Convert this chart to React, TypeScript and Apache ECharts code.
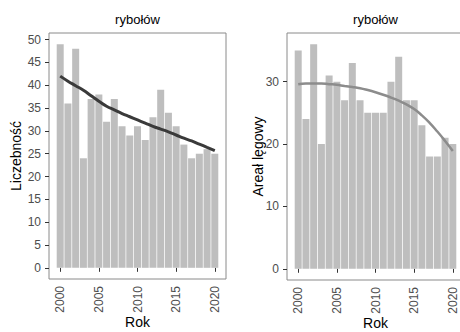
import React, { useEffect, useRef } from "react";
import * as echarts from "echarts";

const years = [2000, 2001, 2002, 2003, 2004, 2005, 2006, 2007, 2008, 2009, 2010, 2011, 2012, 2013, 2014, 2015, 2016, 2017, 2018, 2019, 2020];
const liczebnosc = [49, 36, 48, 24, 37, 38, 32, 37, 31, 29, 31, 28, 33, 39, 34, 31, 27, 24, 25, 26, 25];
const liczebnoscTrend = [42.0, 40.9, 39.9, 38.9, 37.7, 36.5, 35.4, 34.6, 33.8, 33.1, 32.4, 31.7, 31.0, 30.4, 29.8, 29.1, 28.4, 27.8, 27.1, 26.4, 25.7];
const areal = [35, 24, 36, 20, 31, 30, 27, 33, 27, 25, 25, 25, 30, 34, 27, 27, 23, 18, 18, 21, 20];
const arealTrend = [29.6, 29.7, 29.7, 29.7, 29.6, 29.5, 29.3, 29.15, 28.95, 28.65, 28.3, 27.9, 27.45, 26.95, 26.35, 25.6, 24.6, 23.4, 22.0, 20.5, 18.9];
const xTicks = [2000, 2005, 2010, 2015, 2020];
const yTicksLeft = [0, 5, 10, 15, 20, 25, 30, 35, 40, 45, 50];
const yTicksRight = [0, 10, 20, 30];
const panelTitle = "rybołów";
const xName = "Rok";
const yNameLeft = "Liczebność";
const yNameRight = "Areał lęgowy";

const FONT = "Liberation Sans, Arial, sans-serif";

export default function App() {
  const ref = useRef<HTMLDivElement>(null);
  useEffect(() => {
    const chart = echarts.init(ref.current!, null, { renderer: "svg" });
    const xAxisBase = (gridIndex: number) => ({
      type: "value",
      gridIndex,
      min: 1998.55,
      max: 2021.45,
      name: xName,
      nameLocation: "middle",
      nameGap: 36,
      nameMoveOverlap: false,
      nameTextStyle: { fontSize: 14, color: "#000", fontFamily: FONT, lineHeight: 14 },
      axisLine: { show: false },
      axisTick: { show: true, customValues: xTicks, length: 4, lineStyle: { color: "#333", width: 1 } },
      axisLabel: {
        customValues: xTicks,
        rotate: 90,
        margin: 7,
        fontSize: 12,
        color: "#4d4d4d",
        fontFamily: FONT,
        formatter: (v: number) => String(Math.round(v)),
      },
      splitLine: { show: false },
    });
    const yAxisBase = (gridIndex: number, min: number, max: number, ticks: number[], name: string, gap: number) => ({
      type: "value",
      gridIndex,
      min,
      max,
      name,
      nameLocation: "middle",
      nameGap: gap,
      nameMoveOverlap: false,
      nameTextStyle: { fontSize: 14, color: "#000", fontFamily: FONT },
      axisLine: { show: false },
      axisTick: { show: true, customValues: ticks, length: 4, lineStyle: { color: "#333", width: 1 } },
      axisLabel: { customValues: ticks, margin: 8, fontSize: 12, color: "#4d4d4d", fontFamily: FONT },
      splitLine: { show: false },
    });
    chart.setOption({
      animation: false,
      backgroundColor: "#fff",
      graphic: [
        { type: "text", x: 137.5, y: 19, style: { text: panelTitle, textAlign: "center", textVerticalAlign: "middle", fontSize: 13, fill: "#000", fontFamily: FONT } },
        { type: "text", x: 375.5, y: 19, style: { text: panelTitle, textAlign: "center", textVerticalAlign: "middle", fontSize: 13, fill: "#000", fontFamily: FONT } },
      ],
      grid: [
        { left: 49, top: 33, width: 177, height: 246, show: true, borderColor: "#8a8a8a", borderWidth: 1, backgroundColor: "transparent", outerBoundsMode: "none", containLabel: false },
        { left: 287, top: 33, width: 177, height: 247, show: true, borderColor: "#8a8a8a", borderWidth: 1, backgroundColor: "transparent", outerBoundsMode: "none", containLabel: false },
      ],
      xAxis: [xAxisBase(0), xAxisBase(1)],
      yAxis: [
        yAxisBase(0, -2.45, 51.45, yTicksLeft, yNameLeft, 26),
        yAxisBase(1, -1.8, 37.8, yTicksRight, yNameRight, 22),
      ],
      series: [
        {
          type: "bar",
          xAxisIndex: 0,
          yAxisIndex: 0,
          barWidth: 7,
          itemStyle: { color: "#bebebe" },
          data: years.map((y, i) => [y, liczebnosc[i]]),
        },
        {
          type: "line",
          xAxisIndex: 0,
          yAxisIndex: 0,
          smooth: true,
          showSymbol: false,
          symbol: "none",
          lineStyle: { color: "#3a3a3a", width: 3 },
          data: years.map((y, i) => [y, liczebnoscTrend[i]]),
        },
        {
          type: "bar",
          xAxisIndex: 1,
          yAxisIndex: 1,
          barWidth: 7,
          itemStyle: { color: "#bebebe" },
          data: years.map((y, i) => [y, areal[i]]),
        },
        {
          type: "line",
          xAxisIndex: 1,
          yAxisIndex: 1,
          smooth: true,
          showSymbol: false,
          symbol: "none",
          lineStyle: { color: "#8c8c8c", width: 2.5 },
          data: years.map((y, i) => [y, arealTrend[i]]),
        },
      ],
    });
    return () => chart.dispose();
  }, []);
  return <div ref={ref} style={{ position: "absolute", left: 0, top: 0, width: 460, height: 332 }} />;
}
